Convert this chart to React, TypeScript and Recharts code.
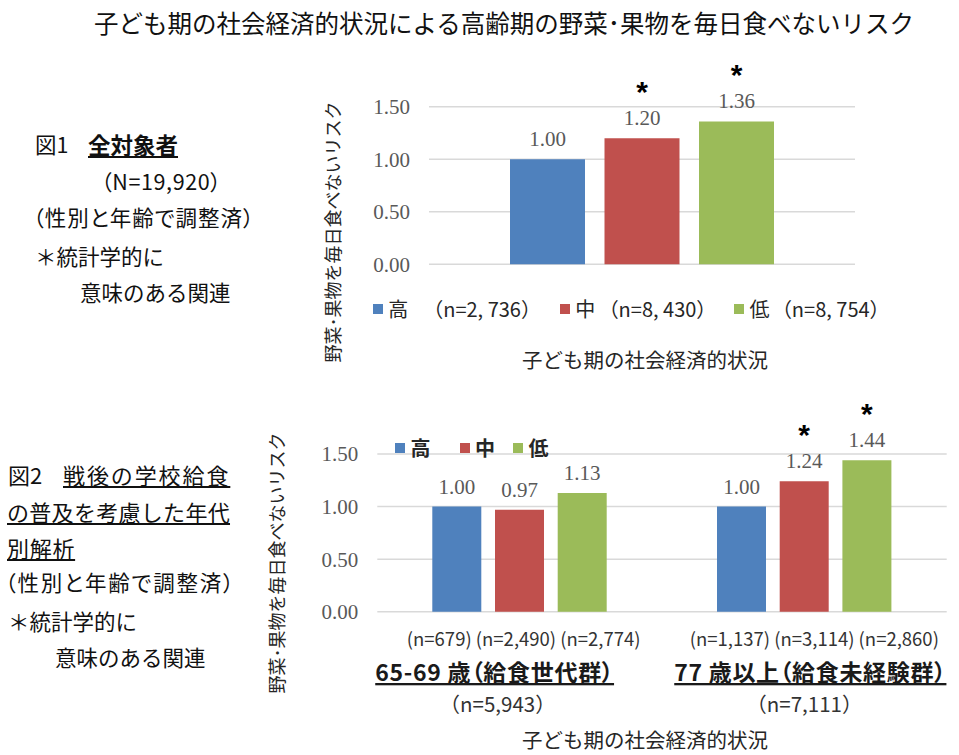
import React from 'react';
import { BarChart, Bar, XAxis, YAxis, CartesianGrid, Legend, LabelList } from 'recharts';

// ---------- data ----------
const seriesKeys = ['high', 'mid', 'low'];
const seriesNames = ['高', '中', '低'];
const seriesColors = ['#4F81BD', '#C0504D', '#9BBB59'];

// Figure 1 (all subjects)
const fig1Categories = ['全対象者'];
const fig1High = [1.0];
const fig1Mid = [1.2];
const fig1Low = [1.36];
const fig1Sig = [[false], [true], [true]];
const fig1LegendN = ['（n=2, 736）', '（n=8, 430）', '（n=8, 754）'];

// Figure 2 (by age group)
const fig2Categories = ['65-69歳', '77歳以上'];
const fig2High = [1.0, 1.0];
const fig2Mid = [0.97, 1.24];
const fig2Low = [1.13, 1.44];
const fig2Sig = [[false, false], [false, true], [false, true]];
const fig2BarN = ['(n=679) (n=2,490) (n=2,774)', '(n=1,137) (n=3,114) (n=2,860)'];
const fig2GroupLabels = ['65-69 歳（給食世代群）', '77 歳以上（給食未経験群）'];
const fig2GroupN = ['（n=5,943）', '（n=7,111）'];

const yTicks = [0, 0.5, 1.0, 1.5];

const titleText = '子ども期の社会経済的状況による高齢期の野菜･果物を毎日食べないリスク';
const yTitle = '野菜･果物を毎日食べないリスク';
const xTitle = '子ども期の社会経済的状況';

const fig1Data = fig1Categories.map((c, i) => ({ cat: c, high: fig1High[i], mid: fig1Mid[i], low: fig1Low[i] }));
const fig2Data = fig2Categories.map((c, i) => ({ cat: c, high: fig2High[i], mid: fig2Mid[i], low: fig2Low[i] }));

// ---------- styles ----------
const SANS = "'Noto Sans CJK JP', 'Noto Sans', sans-serif";
const SERIF = "'Liberation Serif', 'Times New Roman', serif";

// text nudges for the category captions under figure 2 (per category)
const barNDx = [4, 10];
const groupDx = [-25, 6];
const groupNDx = [-22, 0];

const makeLabel = (sig: boolean[]) => (props: any) => {
  const vb = props.viewBox || {};
  const x = Number(props.x ?? vb.x);
  const y = Number(props.y ?? vb.y);
  const w = Number(props.width ?? vb.width);
  const idx = Number(props.index ?? 0);
  const cx = x + w / 2;
  return (
    <g>
      <text x={cx} y={y - 13} textAnchor="middle" fontFamily={SERIF} fontSize={21} fill="#595959">
        {Number(props.value).toFixed(2)}
      </text>
      {sig[idx] ? (
        <text x={cx} y={y - 53 + 17} textAnchor="middle" fontFamily="'Liberation Sans', Arial, sans-serif" fontWeight="bold" fontSize={30} fill="#000">
          *
        </text>
      ) : null}
    </g>
  );
};

const makeLegend = (nLabels: string[] | null, itemGaps: number[], nGaps: number[], bold: boolean) => () => (
  <div style={{ display: 'flex', alignItems: 'center', whiteSpace: 'nowrap', fontFamily: SANS, fontSize: 20, color: '#262626', fontWeight: bold ? 700 : 400, lineHeight: 1 }}>
    {seriesNames.map((name, i) => (
      <div key={name} style={{ display: 'flex', alignItems: 'center', marginLeft: itemGaps[i] || 0 }}>
        <span style={{ width: 10, height: 10, background: seriesColors[i], display: 'inline-block' }} />
        <span style={{ marginLeft: 5.5 }}>{name}</span>
        {nLabels ? <span style={{ marginLeft: nGaps[i] || 0 }}>{nLabels[i]}</span> : null}
      </div>
    ))}
  </div>
);

const Fig2Tick = (props: any) => {
  const { x, y, payload } = props;
  const i = payload.index;
  return (
    <g fontFamily={SANS}>
      <text x={x + barNDx[i]} y={y + 26.3} dominantBaseline="central" textAnchor="middle" fontSize={18.5} fill="#333">
        {fig2BarN[i]}
      </text>
      <text
        x={x + groupDx[i]}
        y={y + 59.3}
        dominantBaseline="central"
        textAnchor="middle"
        fontSize={23}
        fontWeight="bold"
        fill="#1a1a1a"
        letterSpacing={0.7}
        style={{ textDecoration: 'underline', fontFeatureSettings: '"palt"' }}
      >
        {fig2GroupLabels[i]}
      </text>
      <text x={x + groupNDx[i]} y={y + 91.3} dominantBaseline="central" textAnchor="middle" fontSize={20.5} fill="#333">
        {fig2GroupN[i]}
      </text>
    </g>
  );
};

const T = ({ x, cy, fs, children, style }: any) => (
  <div style={{ position: 'absolute', left: x, top: cy - fs * 0.55, fontSize: fs, lineHeight: 1, whiteSpace: 'nowrap', ...style }}>{children}</div>
);

const C = ({ cx, cy, fs, children, style }: any) => (
  <div style={{ position: 'absolute', left: cx, top: cy - fs * 0.55, fontSize: fs, lineHeight: 1, whiteSpace: 'nowrap', transform: 'translateX(-50%)', ...style }}>{children}</div>
);

const V = ({ cx, cy, fs, children }: any) => (
  <div style={{ position: 'absolute', left: cx, top: cy, fontSize: fs, lineHeight: 1, whiteSpace: 'nowrap', color: '#262626', transform: 'translate(-50%, -50%) rotate(-90deg)' }}>{children}</div>
);

const palt = { fontFeatureSettings: '"palt"' };

export default function App() {
  return (
    <div style={{ position: 'absolute', left: 0, top: 0, width: 959, height: 755, background: '#fff', fontFamily: SANS, color: '#111', overflow: 'hidden' }}>
      <C cx={504} cy={24} fs={24.5}>{titleText}</C>

      {/* Figure 1 side text */}
      <T x={35} cy={145} fs={21.5}>図1</T>
      <T x={88} cy={145} fs={22.5} style={{ fontWeight: 700, textDecoration: 'underline' }}>全対象者</T>
      <T x={101} cy={182} fs={21.5} style={{ ...palt, letterSpacing: 0.6 }}>（N=19,920）</T>
      <T x={33} cy={218} fs={21.5} style={{ ...palt, letterSpacing: 1 }}>（性別と年齢で調整済）</T>
      <T x={35} cy={257} fs={21.5}>＊統計学的に</T>
      <T x={80} cy={293} fs={21.5}>意味のある関連</T>

      {/* Figure 2 side text */}
      <T x={8} cy={475} fs={22}>図2</T>
      <T x={63} cy={475} fs={22} style={{ textDecoration: 'underline', letterSpacing: 1.9 }}>戦後の学校給食</T>
      <T x={7} cy={512} fs={22} style={{ textDecoration: 'underline', letterSpacing: 0.3 }}>の普及を考慮した年代</T>
      <T x={7} cy={548} fs={22} style={{ textDecoration: 'underline', letterSpacing: 0.7 }}>別解析</T>
      <T x={5} cy={583} fs={21.5} style={{ ...palt, letterSpacing: 1.8 }}>（性別と年齢で調整済）</T>
      <T x={8} cy={622} fs={21.5}>＊統計学的に</T>
      <T x={55} cy={658} fs={21.5}>意味のある関連</T>

      {/* Figure 1 chart */}
      <V cx={332} cy={232} fs={18}>{yTitle}</V>
      <div style={{ position: 'absolute', left: 310, top: 40 }}>
        <BarChart width={560} height={340} data={fig1Data} margin={{ top: 66.7, right: 15, bottom: 115.7, left: 0 }} barGap={19.5}>
          <CartesianGrid vertical={false} stroke="#d9d9d9" strokeWidth={1.5} />
          <XAxis dataKey="cat" hide />
          <YAxis
            width={119}
            domain={[0, 1.5]}
            ticks={yTicks}
            tickFormatter={(v: number) => v.toFixed(2)}
            axisLine={false}
            tickLine={false}
            tickSize={0}
            tickMargin={19}
            tick={{ fontFamily: SERIF, fontSize: 21, fill: '#595959' }}
          />
          <Legend
            layout="horizontal"
            verticalAlign="middle"
            align="center"
            itemSorter={null as any}
            wrapperStyle={{ top: 259, left: 62.7, width: 'auto' }}
            content={makeLegend(fig1LegendN, [0, 18.7, 17.5], [15, 3.5, 2.5], false)}
          />
          {seriesKeys.map((k, si) => (
            <Bar key={k} dataKey={k} name={seriesNames[si]} fill={seriesColors[si]} barSize={75} isAnimationActive={false}>
              <LabelList dataKey={k} content={makeLabel(fig1Sig[si])} />
            </Bar>
          ))}
        </BarChart>
      </div>
      <C cx={645} cy={360} fs={20.5} style={{ color: '#262626' }}>{xTitle}</C>

      {/* Figure 2 chart */}
      <V cx={276} cy={563} fs={18}>{yTitle}</V>
      <div style={{ position: 'absolute', left: 300, top: 380 }}>
        <BarChart width={659} height={375} data={fig2Data} margin={{ top: 74, right: 12.3, bottom: 43.3, left: 0 }} barGap={13.7}>
          <CartesianGrid vertical={false} stroke="#d9d9d9" strokeWidth={1.5} />
          <XAxis
            dataKey="cat"
            height={100}
            axisLine={false}
            tickLine={false}
            tickSize={0}
            tickMargin={0}
            interval={0}
            tick={<Fig2Tick />}
          />
          <YAxis
            width={77.3}
            domain={[0, 1.5]}
            ticks={yTicks}
            tickFormatter={(v: number) => v.toFixed(2)}
            axisLine={false}
            tickLine={false}
            tickSize={0}
            tickMargin={19}
            tick={{ fontFamily: SERIF, fontSize: 21, fill: '#595959' }}
          />
          <Legend
            layout="horizontal"
            verticalAlign="middle"
            align="center"
            itemSorter={null as any}
            wrapperStyle={{ top: 57.7, left: 95, width: 'auto' }}
            content={makeLegend(null, [0, 29, 18], [0, 0, 0], true)}
          />
          {seriesKeys.map((k, si) => (
            <Bar key={k} dataKey={k} name={seriesNames[si]} fill={seriesColors[si]} barSize={49} isAnimationActive={false}>
              <LabelList dataKey={k} content={makeLabel(fig2Sig[si])} />
            </Bar>
          ))}
        </BarChart>
      </div>
      <C cx={645} cy={740} fs={20.5} style={{ color: '#262626' }}>{xTitle}</C>
    </div>
  );
}
